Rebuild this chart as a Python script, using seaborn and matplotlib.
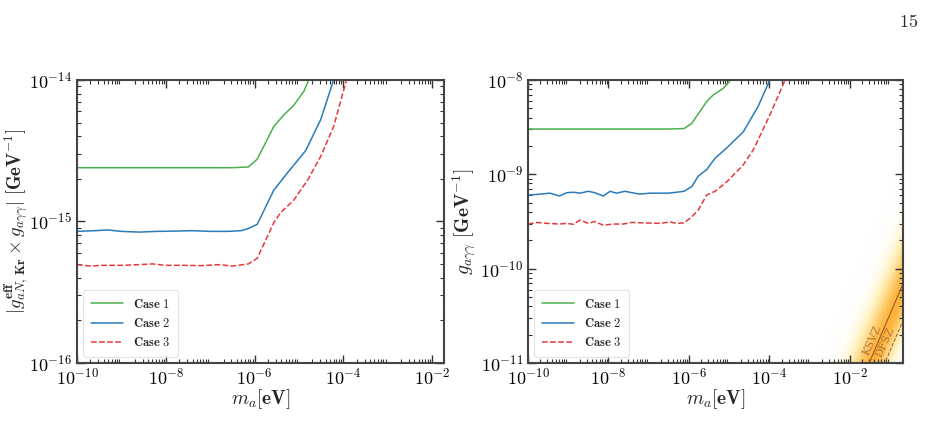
import numpy as np
import pandas as pd
import seaborn as sns
import matplotlib.pyplot as plt
from matplotlib.colors import LinearSegmentedColormap
from matplotlib.ticker import LogLocator, NullFormatter, FuncFormatter

sns.set_style("ticks")
plt.rcParams["font.family"] = ["DejaVu Serif"]
plt.rcParams["mathtext.fontset"] = "cm"

# ---- data (log10 values) ----
# left panel: |g_aN,Kr^eff x g_agg|
left_c1_m = [-10, -9.5, -9, -8.5, -8, -7.5, -7, -6.5, -6.14, -5.94, -5.57, -5.35, -5.12, -4.89, -4.78]
left_c1_g = [-14.62, -14.62, -14.62, -14.62, -14.62, -14.62, -14.62, -14.62, -14.615, -14.56, -14.33, -14.25, -14.18, -14.08, -14.0]
left_c2_m = [-10, -9.6, -9.3, -9, -8.6, -8.2, -7.8, -7.4, -7, -6.6, -6.3, -6.14, -5.94, -5.57, -5.27, -4.85, -4.51, -4.22]
left_c2_g = [-15.07, -15.065, -15.06, -15.07, -15.075, -15.07, -15.068, -15.065, -15.07, -15.07, -15.065, -15.05, -15.02, -14.78, -14.66, -14.50, -14.28, -14.0]
left_c3_m = [-10, -9.7, -9.4, -9, -8.6, -8.3, -8, -7.6, -7.2, -6.8, -6.5, -6.14, -5.94, -5.57, -5.42, -5.12, -4.81, -4.51, -4.22, -3.93]
left_c3_g = [-15.305, -15.315, -15.31, -15.31, -15.305, -15.30, -15.31, -15.31, -15.312, -15.305, -15.315, -15.30, -15.26, -15.01, -14.94, -14.85, -14.71, -14.54, -14.33, -14.0]

# right panel: g_agg
right_c1_m = [-10, -9.5, -9, -8.5, -8, -7.5, -7, -6.5, -6.12, -5.93, -5.56, -5.40, -5.15, -4.96]
right_c1_g = [-8.52, -8.52, -8.52, -8.52, -8.52, -8.52, -8.52, -8.52, -8.515, -8.46, -8.23, -8.16, -8.09, -8.0]
right_c2_m = [-10, -9.70, -9.45, -9.22, -9.04, -8.87, -8.71, -8.50, -8.34, -8.13, -7.96, -7.80, -7.59, -7.42,
              -7.22, -6.97, -6.72, -6.51, -6.31, -6.12, -5.93, -5.77, -5.56, -5.35, -5.06, -4.65, -4.28, -3.99]
right_c2_g = [-9.22, -9.21, -9.20, -9.23, -9.195, -9.19, -9.20, -9.18, -9.195, -9.23, -9.18, -9.20, -9.18, -9.195,
              -9.21, -9.20, -9.20, -9.20, -9.19, -9.18, -9.13, -9.02, -8.95, -8.83, -8.72, -8.55, -8.28, -8.0]
right_c3_m = [-10, -9.78, -9.54, -9.22, -9.04, -8.87, -8.71, -8.50, -8.34, -8.13, -7.88, -7.63, -7.42, -7.13,
              -6.72, -6.47, -6.31, -6.12, -5.93, -5.77, -5.56, -5.35, -5.06, -4.65, -4.40, -4.03, -3.61]
right_c3_g = [-9.527, -9.51, -9.52, -9.527, -9.52, -9.53, -9.485, -9.52, -9.50, -9.54, -9.527, -9.527, -9.51, -9.515,
              -9.52, -9.505, -9.52, -9.515, -9.45, -9.38, -9.22, -9.18, -9.08, -8.90, -8.74, -8.41, -8.0]

# QCD axion lines: log10(g / m) offsets
ksvz_offset = -9.48
dfsz_offset = -9.87
band_center = -9.55
band_width_up = 0.5
band_width_down = 0.38

case_labels = [r"$\mathbf{Case\ 1}$", r"$\mathbf{Case\ 2}$", r"$\mathbf{Case\ 3}$"]
case_colors = ["#4caf50", "#2b7bba", "#e8383d"]
case_styles = ["-", "-", "--"]


def make_df(ms, gs):
    frames = []
    for lab, m, g in zip(case_labels, ms, gs):
        frames.append(pd.DataFrame({"m": 10.0 ** np.array(m), "g": 10.0 ** np.array(g), "case": lab}))
    return pd.concat(frames, ignore_index=True)


df_left = make_df([left_c1_m, left_c2_m, left_c3_m], [left_c1_g, left_c2_g, left_c3_g])
df_right = make_df([right_c1_m, right_c2_m, right_c3_m], [right_c1_g, right_c2_g, right_c3_g])

fig = plt.figure(figsize=(9.27, 4.45), dpi=100)
ax1 = fig.add_axes([0.0831, 0.1843, 0.396, 0.636])
ax2 = fig.add_axes([0.5696, 0.1843, 0.4045, 0.636])


def draw_cases(ax, df):
    for lab, col, ls in zip(case_labels, case_colors, case_styles):
        sub = df[df["case"] == lab]
        sns.lineplot(data=sub, x="m", y="g", ax=ax, color=col, linestyle=ls,
                     lw=1.1, label=lab, sort=False, estimator=None)


draw_cases(ax1, df_left)
draw_cases(ax2, df_right)

# QCD axion band on the right panel
mg = np.logspace(-4, np.log10(0.2), 300)
gg = np.logspace(-11, -8, 300)
M, G = np.meshgrid(mg, gg)
R = np.log10(G) - np.log10(M)
w = np.where(R > band_center, band_width_up, band_width_down)
intensity = np.exp(-0.5 * ((R - band_center) / w) ** 2)
band_cmap = LinearSegmentedColormap.from_list(
    "band", [(1, 1, 1, 0), (1.0, 0.92, 0.6, 0.6), (0.99, 0.70, 0.22, 1.0)])
ax2.pcolormesh(M, G, intensity, cmap=band_cmap, shading="auto", zorder=0, rasterized=True)
ax2.plot(mg, mg * 10 ** ksvz_offset, color="#9c5a2c", lw=0.8, zorder=1)
ax2.plot(mg, mg * 10 ** dfsz_offset, color="#9c5a2c", lw=0.7, ls="--", zorder=1)
ax2.text(10 ** -1.46, 10 ** -10.76, "KSVZ", rotation=66, color="#b5733c", fontsize=8,
         ha="center", va="center", family="serif")
ax2.text(10 ** -1.13, 10 ** -10.78, "DFSZ", rotation=66, color="#b5733c", fontsize=8,
         ha="center", va="center", family="serif")

fmt = FuncFormatter(lambda v, p: r"$\mathbf{10^{%d}}$" % round(np.log10(v)))
for ax, ylim, xlim in [(ax1, (1e-16, 1e-14), (1e-10, 10 ** -1.73)),
                       (ax2, (1e-11, 1e-8), (1e-10, 10 ** -0.68))]:
    ax.set_xscale("log")
    ax.set_yscale("log")
    ax.set_xlim(*xlim)
    ax.set_ylim(*ylim)
    ax.set_xticks([1e-10, 1e-8, 1e-6, 1e-4, 1e-2])
    ax.xaxis.set_minor_locator(LogLocator(base=10, subs=np.arange(2, 10), numticks=100))
    ax.yaxis.set_major_locator(LogLocator(base=10, numticks=100))
    ax.yaxis.set_minor_locator(LogLocator(base=10, subs=np.arange(2, 10), numticks=100))
    ax.xaxis.set_minor_formatter(NullFormatter())
    ax.yaxis.set_minor_formatter(NullFormatter())
    ax.xaxis.set_major_formatter(fmt)
    ax.yaxis.set_major_formatter(fmt)
    ax.tick_params(which="both", direction="in", top=True, right=True, labelsize=13, colors="#333333")
    ax.tick_params(which="major", length=6, width=1.0, labelcolor="black")
    ax.tick_params(which="minor", length=3, width=0.8)
    for s in ax.spines.values():
        s.set_linewidth(1.5)
        s.set_color("#444444")
    ax.set_xlabel(r"$m_a\mathbf{[eV]}$", fontsize=14, labelpad=-1)
    leg = ax.legend(loc="lower left", fontsize=9, frameon=True, fancybox=True,
                    handlelength=2.6, borderpad=0.6, labelspacing=0.5, edgecolor="#dddddd")
    leg.get_frame().set_linewidth(0.8)

ax1.set_ylabel(r"$|g^{\mathbf{eff}}_{aN,\,\mathbf{Kr}}\times g_{a\gamma\gamma}|\ \mathbf{[GeV^{-1}]}$",
               fontsize=13.5)
ax1.yaxis.set_label_coords(-0.126, 0.5)
ax2.set_ylabel(r"$g_{a\gamma\gamma}\ \mathbf{[GeV^{-1}]}$", fontsize=14, labelpad=2)

fig.text(918 / 927, 1 - 22 / 445, r"$\mathrm{15}$", ha="right", va="center", fontsize=13)

fig.savefig("out.png", dpi=100)
